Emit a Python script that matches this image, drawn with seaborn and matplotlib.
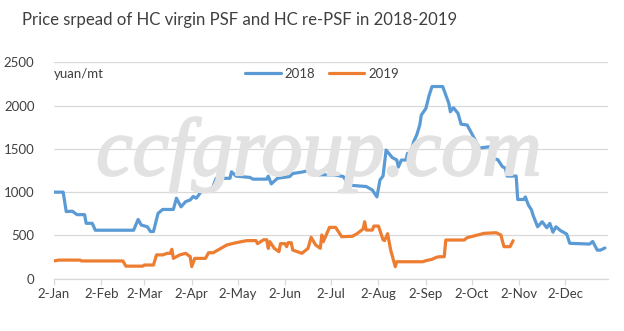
import matplotlib
matplotlib.use("Agg")
import matplotlib.pyplot as plt
import matplotlib.patheffects as pe
import seaborn as sns
import pandas as pd
import numpy as np

# ---- data (day offset from 2-Jan, value in yuan/mt) ----
days_2018 = [0, 6, 8, 12, 15, 20, 21, 25, 27, 52, 55, 57, 61, 63, 65, 68, 71, 78, 80, 83,
             86, 89, 91, 93, 97, 103, 106, 115, 116, 119, 128, 130, 139, 140, 142, 146, 154, 156, 163, 169,
             173, 183, 189, 193, 204, 208, 211, 213, 215, 217, 221, 224, 225, 227, 230, 231, 233, 235, 237, 239,
             240, 243, 245, 247, 254, 258, 259, 261, 264, 266, 270, 278, 285, 287, 290, 293, 295, 296, 302, 303,
             307, 308, 310, 312, 313, 316, 319, 322, 324, 326, 328, 331, 335, 337, 350, 352, 355, 357, 360]
vals_2018 = [1000, 1000, 775, 780, 740, 740, 640, 640, 560, 560, 685, 620, 600, 545, 545, 755, 800, 800, 930, 830,
             890, 910, 950, 930, 1025, 1025, 1160, 1160, 1235, 1185, 1170, 1150, 1150, 1185, 1095, 1160, 1180, 1215, 1235, 1263,
             1200, 1200, 1180, 1080, 1065, 1025, 945, 1140, 1186, 1486, 1400, 1371, 1290, 1371, 1371, 1448, 1448, 1582, 1660, 1775,
             1890, 1967, 2110, 2220, 2220, 2025, 1929, 1975, 1910, 1785, 1775, 1510, 1525, 1390, 1375, 1295, 1275, 1186, 1186, 915,
             915, 945, 850, 795, 735, 600, 658, 589, 640, 537, 600, 555, 516, 409, 400, 430, 330, 330, 355]

days_2019 = [0, 3, 17, 18, 45, 47, 58, 59, 65, 67, 71, 74, 76, 77, 78, 82, 86, 89, 90, 92,
             99, 101, 104, 108, 113, 119, 126, 132, 133, 137, 139, 140, 141, 144, 147, 148, 151, 152, 153, 155,
             156, 162, 166, 168, 171, 174, 175, 176, 180, 184, 188, 195, 198, 202, 203, 204, 208, 209, 212, 215,
             216, 218, 220, 223, 224, 241, 243, 247, 250, 252, 255, 256, 268, 270, 281, 289, 292, 294, 298, 300]
vals_2019 = [205, 215, 215, 205, 205, 145, 145, 158, 158, 275, 275, 293, 293, 340, 235, 274, 293, 255, 140, 235,
             235, 300, 300, 340, 390, 416, 440, 440, 405, 450, 450, 350, 428, 350, 312, 405, 405, 370, 416, 416,
             331, 293, 351, 478, 389, 351, 505, 428, 593, 593, 485, 490, 520, 574, 658, 562, 562, 608, 608, 450,
             440, 520, 331, 139, 196, 196, 208, 224, 248, 254, 254, 447, 447, 474, 524, 531, 505, 370, 370, 439]

series_names = ["2018", "2019"]
tick_months = [1, 2, 3, 4, 5, 6, 7, 8, 9, 10, 11, 12]
tick_labels = ["2-Jan", "2-Feb", "2-Mar", "2-Apr", "2-May", "2-Jun",
               "2-Jul", "2-Aug", "2-Sep", "2-Oct", "2-Nov", "2-Dec"]
y_ticks = [0, 500, 1000, 1500, 2000, 2500]

title = "Price srpead of HC virgin PSF and HC re-PSF in 2018-2019"
unit_label = "yuan/mt"
watermark = "ccfgroup.com"

# ---- build frame ----
base = pd.Timestamp("2018-01-02")
df = pd.concat([
    pd.DataFrame({"date": base + pd.to_timedelta(days_2018, unit="D"),
                  "value": vals_2018, "year": series_names[0]}),
    pd.DataFrame({"date": base + pd.to_timedelta(days_2019, unit="D"),
                  "value": vals_2019, "year": series_names[1]}),
], ignore_index=True)

sns.set_theme(style="white")
plt.rcParams["font.family"] = ["Lato", "DejaVu Sans"]
text_color = "#404040"

W, H = 624, 331
fig = plt.figure(figsize=(W / 100, H / 100), dpi=100)
left, right, top, bottom = 54, 608, 62.3, 278.7
ax = fig.add_axes([left / W, 1 - bottom / H, (right - left) / W, (bottom - top) / H])

# watermark
wm_color = "#e2e2e2"
fig.text(319 / W, 1 - 175 / H, watermark, fontsize=59, fontstyle="italic",
         family="Liberation Serif", color=wm_color, ha="center", va="baseline", zorder=0,
         path_effects=[pe.withStroke(linewidth=1.6, foreground=wm_color)])
ax.set_facecolor("none")

sns.lineplot(data=df, x="date", y="value", hue="year", palette=["#5B9BD5", "#ED7D31"],
             linewidth=2.3, ax=ax, legend=False, zorder=3, estimator=None, sort=True)

ax.set_xlim(base, base + pd.Timedelta(days=362))
ax.set_ylim(0, 2500)
ax.set_yticks(y_ticks)
ax.set_yticklabels([str(v) for v in y_ticks])
ticks = [pd.Timestamp(2018, m, 2) for m in tick_months]
ax.set_xticks(ticks)
ax.set_xticklabels(tick_labels)
ax.grid(axis="y", color="#d9d9d9", linewidth=0.9)
ax.grid(axis="x", visible=False)
for s in ["top", "right", "left"]:
    ax.spines[s].set_visible(False)
ax.spines["bottom"].set_color("#d9d9d9")
ax.spines["bottom"].set_linewidth(0.9)
ax.tick_params(axis="x", length=4, width=0.9, color="#d9d9d9", labelsize=9.5,
               labelcolor=text_color, pad=3, bottom=True)
ax.tick_params(axis="y", length=0, labelsize=9.5, labelcolor=text_color, pad=14)
ax.set_xlabel("")
ax.set_ylabel("")

# legend
handles = [plt.Line2D([], [], color="#5B9BD5", lw=2.3),
           plt.Line2D([], [], color="#ED7D31", lw=2.3)]
ax.legend(handles, series_names, loc="center", bbox_to_anchor=(322 / W, 1 - 74 / H),
          bbox_transform=fig.transFigure, ncol=2, frameon=False, fontsize=9.5,
          handlelength=2.7, handletextpad=0.3, columnspacing=1.0, labelcolor=text_color)

fig.text(54 / W, 1 - 73.5 / H, unit_label, fontsize=9.5, color=text_color, ha="left", va="center")
fig.text(22 / W, 1 - 20 / H, title, fontsize=12.1, color=text_color, ha="left", va="center")

fig.savefig("out.png", dpi=100)
